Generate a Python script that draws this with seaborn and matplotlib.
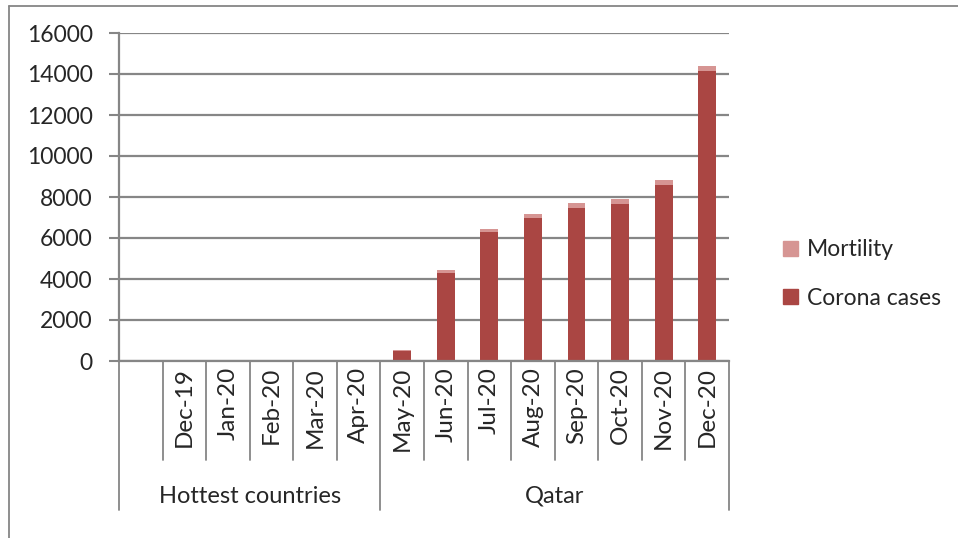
import numpy as np
import pandas as pd
import seaborn as sns
import matplotlib.pyplot as plt
from matplotlib.lines import Line2D
from matplotlib.patches import Patch

sns.set_style("white")
plt.rcParams['font.family'] = ['Lato', 'DejaVu Sans']

# data
months = ["", "Dec-19", "Jan-20", "Feb-20", "Mar-20", "Apr-20",
          "May-20", "Jun-20", "Jul-20", "Aug-20", "Sep-20", "Oct-20", "Nov-20", "Dec-20"]
groups = ["Hottest countries", "Qatar"]
group_sizes = [6, 8]
cases = [0, 0, 0, 0, 0, 0, 490, 4310, 6280, 6960, 7480, 7680, 8570, 14150]
mortality = [0, 0, 0, 0, 0, 0, 60, 150, 180, 230, 230, 220, 245, 260]

df = pd.DataFrame({"month": [m if m else " " for m in months],
                   "cases": cases, "mortality": mortality})
df["total"] = df["cases"] + df["mortality"]
order = list(df["month"])

grey = "#868686"
c_cases = "#AA4643"
c_mort = "#D69593"

fig = plt.figure(figsize=(9.58, 5.38), dpi=100)
ax = fig.add_axes([119/958, 1-361/538, (729-119)/958, 328/538])

sns.barplot(data=df, x="month", y="total", order=order, color=c_mort,
            width=0.41, saturation=1, ax=ax, linewidth=0)
sns.barplot(data=df, x="month", y="cases", order=order, color=c_cases,
            width=0.41, saturation=1, ax=ax, linewidth=0)

ax.set_xlim(-0.5, len(months) - 0.5)
ax.set_ylim(0, 16000)
ax.set_yticks(np.arange(0, 16001, 2000))
ax.set_yticklabels([str(v) for v in range(0, 16001, 2000)], fontsize=16.5)
ax.yaxis.grid(True, color=grey, lw=1.6)
ax.set_axisbelow(True)
ax.tick_params(axis="y", left=True, length=7, width=1.5, color=grey, pad=12)
ax.set_xlabel("")
ax.set_ylabel("")
ax.set_xticks([])
for s in ["top", "right"]:
    ax.spines[s].set_visible(False)
for s in ["left", "bottom"]:
    ax.spines[s].set_color(grey)
    ax.spines[s].set_linewidth(1.6)

# multi-level category axis
trans = ax.get_xaxis_transform()
bounds = np.arange(len(months) + 1) - 0.5
outer = {0, 6, 14}
for i, b in enumerate(bounds):
    y_end = -0.455 if i in outer else -0.302
    ax.add_line(Line2D([b, b], [0, y_end], transform=trans, color=grey,
                       lw=1.3, clip_on=False))
for i, m in enumerate(months):
    ax.text(i, -0.018, m, transform=trans, rotation=90, ha="center", va="top",
            fontsize=17.5)
start = 0
for g, n in zip(groups, group_sizes):
    ax.text(start + n / 2 - 0.5, -0.445, g, transform=trans, ha="center",
            va="bottom", fontsize=17)
    start += n

handles = [Patch(color=c_mort, label="Mortility"),
           Patch(color=c_cases, label="Corona cases")]
fig.legend(handles=handles, loc="center left", bbox_to_anchor=(762/958, 1-274/538),
           frameon=False, fontsize=16.5, handlelength=0.65, handleheight=0.65,
           handletextpad=0.4, labelspacing=1.2)

# outer chart frame (top and left edges visible)
fig.add_artist(Line2D([8.5/958, 1], [1-5.5/538, 1-5.5/538], color=grey, lw=1.3))
fig.add_artist(Line2D([8.5/958, 8.5/958], [0, 1-5.5/538], color=grey, lw=1.3))

fig.savefig("out.png", dpi=100)
